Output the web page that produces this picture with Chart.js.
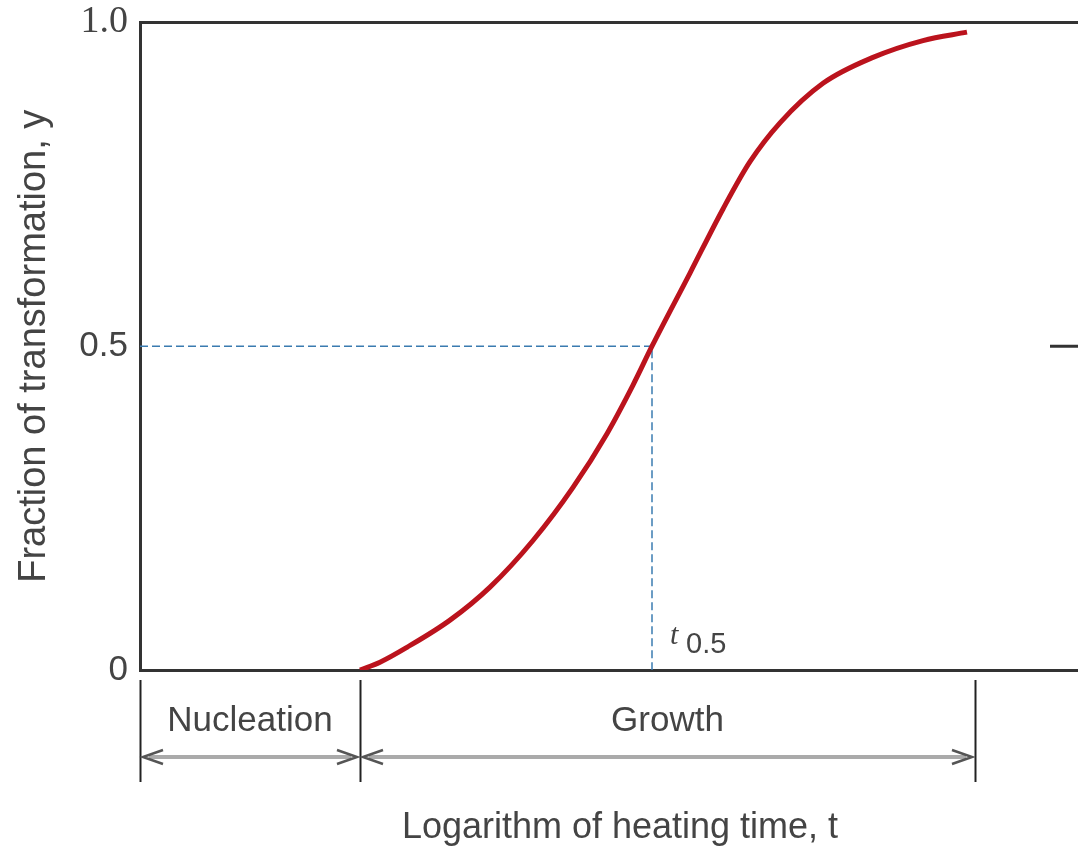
<!DOCTYPE html>
<html>
<head>
<meta charset="utf-8">
<script src="https://cdn.jsdelivr.net/npm/chart.js@4.4.0/dist/chart.umd.min.js"></script>
<style>
html, body { margin: 0; padding: 0; background: #fff; overflow: hidden; }
canvas { display: block; }
</style>
</head>
<body>
<canvas id="chart" width="1100" height="847"></canvas>
<script>
// log(heating time) in arbitrary units vs fraction transformed
const logTime = [2.2, 2.4, 2.67, 3.1, 3.5, 3.93, 4.33, 4.67, 4.93, 5.12, 5.5, 5.83, 6.1, 6.4, 6.83, 7.33, 7.83, 8.27];
const fraction = [0, 0.012, 0.035, 0.077, 0.128, 0.2, 0.282, 0.365, 0.44, 0.5, 0.613, 0.712, 0.785, 0.845, 0.906, 0.946, 0.972, 0.985];
const yTicks = [0, 0.5, 1.0];
const tHalf = 5.12;
const phaseNames = ['Nucleation', 'Growth'];
const phaseBounds = [0, 2.2, 8.35];
const edgeMark = [9.1, 9.5];   // stray tick at the right edge
const xMax = 9.6;

const textColor = '#444';
const sans = 'Liberation Sans';

const phasePlugin = {
    id: 'phases',
    afterDraw(chart) {
        const { ctx, chartArea, scales } = chart;
        const xs = scales.x;
        const base = chartArea.bottom;
        ctx.save();

        // bracket verticals
        ctx.strokeStyle = '#222';
        ctx.lineWidth = 2;
        phaseBounds.forEach(v => {
            const px = Math.round(xs.getPixelForValue(v)) + 0.5;
            ctx.beginPath();
            ctx.moveTo(px, base + 10);
            ctx.lineTo(px, base + 112);
            ctx.stroke();
        });

        // double arrows + labels
        const ay = base + 87;
        for (let i = 0; i < phaseNames.length; i++) {
            const x0 = xs.getPixelForValue(phaseBounds[i]) + 3;
            const x1 = xs.getPixelForValue(phaseBounds[i + 1]) - 3;
            ctx.strokeStyle = '#aaa';
            ctx.lineWidth = 4;
            ctx.beginPath();
            ctx.moveTo(x0 + 6, ay);
            ctx.lineTo(x1 - 6, ay);
            ctx.stroke();

            ctx.strokeStyle = '#555';
            ctx.lineWidth = 2.5;
            ctx.beginPath();
            ctx.moveTo(x0 + 20, ay - 7);
            ctx.lineTo(x0, ay);
            ctx.lineTo(x0 + 20, ay + 7);
            ctx.moveTo(x1 - 20, ay - 7);
            ctx.lineTo(x1, ay);
            ctx.lineTo(x1 - 20, ay + 7);
            ctx.stroke();

            ctx.fillStyle = textColor;
            ctx.font = '35px ' + sans;
            ctx.textAlign = 'center';
            ctx.textBaseline = 'middle';
            ctx.fillText(phaseNames[i], (x0 + x1) / 2, base + 51);
        }

        // t0.5 label
        const tx = xs.getPixelForValue(tHalf) + 18;
        ctx.textAlign = 'left';
        ctx.textBaseline = 'alphabetic';
        ctx.font = 'italic 30px Liberation Serif';
        ctx.fillText('t', tx, base - 26);
        ctx.font = '29px ' + sans;
        ctx.fillText('0.5', tx + 16, base - 17);
        ctx.restore();
    }
};

const ctx = document.getElementById('chart').getContext('2d');

const chart = new Chart(ctx, {
    type: 'line',
    data: {
        datasets: [
            {
                label: 'Fraction transformed',
                data: logTime.map((t, i) => ({ x: t, y: fraction[i] })),
                borderColor: '#bb131d',
                borderWidth: 5,
                pointRadius: 0,
                cubicInterpolationMode: 'monotone',
                order: 0
            },
            {
                label: 't0.5',
                data: [{ x: 0, y: 0.5 }, { x: tHalf, y: 0.5 }, { x: tHalf, y: 0 }],
                borderColor: '#3a7bb0',
                borderWidth: 1.5,
                borderDash: [8, 4],
                pointRadius: 0,
                tension: 0,
                order: 1
            },
            {
                label: 'edge',
                data: edgeMark.map(v => ({ x: v, y: 0.5 })),
                borderColor: '#333',
                borderWidth: 3,
                pointRadius: 0,
                order: 2
            }
        ]
    },
    options: {
        responsive: false,
        animation: false,
        layout: { padding: 0 },
        plugins: {
            legend: { display: false },
            tooltip: { enabled: false }
        },
        scales: {
            x: {
                type: 'linear',
                position: 'bottom',
                min: 0,
                max: xMax,
                grid: { display: false, drawTicks: false },
                border: { display: true, color: '#333', width: 3 },
                ticks: { display: false },
                title: {
                    display: true,
                    text: 'Logarithm of heating time, t',
                    color: textColor,
                    font: { family: sans, size: 36 },
                    padding: { top: 0, bottom: -3 }
                },
                afterFit(s) { s.height = 177; }
            },
            xTop: {
                type: 'linear',
                position: 'top',
                min: 0,
                max: xMax,
                grid: { display: false, drawTicks: false },
                border: { display: true, color: '#333', width: 3 },
                ticks: { display: false },
                afterFit(s) { s.height = 15; }
            },
            y: {
                min: 0,
                max: 1,
                afterBuildTicks(s) { s.ticks = yTicks.map(v => ({ value: v })); },
                grid: { display: false, drawTicks: false },
                border: { display: true, color: '#333', width: 3 },
                ticks: {
                    padding: 12,
                    color: textColor,
                    font: (c) => (c.tick && c.tick.value === 1
                        ? { family: 'Liberation Serif', size: 38, lineHeight: 0.55 }
                        : { family: sans, size: 35, lineHeight: 0.55 }),
                    callback: v => v === 1 ? '1.0' : String(v)
                },
                title: {
                    display: true,
                    text: 'Fraction of transformation, y',
                    color: textColor,
                    font: { family: sans, size: 38 },
                    padding: { top: 12, bottom: 0 }
                },
                afterFit(s) { s.width = 140; }
            }
        }
    },
    plugins: [phasePlugin]
});
</script>
</body>
</html>
